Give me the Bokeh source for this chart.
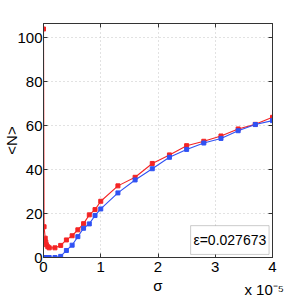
import math
from bokeh.plotting import figure
from bokeh.models import Range1d, LinearAxis, FixedTicker, Label, BoxAnnotation
from bokeh.embed import file_html
from bokeh.resources import INLINE

# sigma in units of 1e-5
sigma = [0, 0.01, 0.03, 0.04, 0.05, 0.075, 0.1, 0.2, 0.3, 0.4, 0.5, 0.6, 0.7, 0.8, 0.9, 1.0,
         1.3, 1.6, 1.9, 2.2, 2.5, 2.8, 3.1, 3.4, 3.7, 4.0]
n_red = [104, 14, 8.8, 7, 5.8, 4.9, 4.4, 4.4, 5.5, 8, 9.9, 12.6, 15.4, 19.4, 21.8, 25.6,
         32.6, 36.5, 42.8, 46.7, 50.9, 52.9, 55.3, 58.5, 60.6, 63.8]
n_blue = [0, 0, 0, 0, 0, 0, 0, 0, 0.5, 3.2, 5.6, 9.5, 13.3, 15.3, 19.1, 22.1,
          29.4, 35.3, 40.4, 45.6, 49.2, 52.1, 54.2, 57.7, 60.5, 62.3]
x_ticks = [0, 1, 2, 3, 4]
y_ticks = [0, 20, 40, 60, 80, 100]
eps_text = "ε=0.027673"
scale_text = "x 10⁻⁵" + "\u00a0" * 4

FONT = "Liberation Sans"

p = figure(width=300, height=300, output_backend="svg", toolbar_location=None,
           x_range=Range1d(0, 4), y_range=Range1d(0, 106.5),
           min_border_left=43, min_border_right=28, min_border_top=23, min_border_bottom=43)
p.background_fill_color = "white"
p.border_fill_color = "white"
p.outline_line_color = "#333333"

for ax in (p.xaxis[0], p.yaxis[0]):
    ax.major_tick_in = 4
    ax.major_tick_out = 0
    ax.minor_tick_line_color = None
    ax.axis_line_color = "#333333"
    ax.major_tick_line_color = "#333333"
    ax.major_label_text_font = FONT
    ax.major_label_text_font_size = "15px"
    ax.major_label_text_color = "black"
    ax.axis_label_text_font = FONT
    ax.axis_label_text_font_size = "15px"
    ax.axis_label_text_font_style = "normal"
    ax.axis_label_text_color = "black"
p.xaxis.ticker = FixedTicker(ticks=x_ticks)
p.yaxis.ticker = FixedTicker(ticks=y_ticks)
p.xaxis.major_label_standoff = 4
p.yaxis.major_label_standoff = 1
p.yaxis.axis_label = "<N>"
p.yaxis.axis_label_standoff = -6
p.xaxis.axis_label = "σ"
p.xaxis.axis_label_standoff = 2

for loc, ticks in (("above", x_ticks), ("right", y_ticks)):
    ax = LinearAxis(ticker=FixedTicker(ticks=ticks))
    ax.major_tick_in = 4
    ax.major_tick_out = 0
    ax.minor_tick_line_color = None
    ax.axis_line_color = "#333333"
    ax.major_tick_line_color = "#333333"
    ax.major_label_overrides = {t: "" for t in ticks}
    ax.major_label_standoff = 0
    p.add_layout(ax, loc)

# second bottom axis carrying only the scale factor text
sax = LinearAxis(ticker=FixedTicker(ticks=x_ticks))
sax.major_label_overrides = {t: "" for t in x_ticks}
sax.major_label_standoff = 0
sax.major_tick_in = 0
sax.major_tick_out = 0
sax.minor_tick_line_color = None
sax.axis_line_color = None
sax.major_tick_line_color = None
sax.axis_label = scale_text
sax.axis_label_align = "end"
sax.axis_label_standoff = -16
sax.axis_label_text_font = FONT
sax.axis_label_text_font_size = "15px"
sax.axis_label_text_font_style = "normal"
sax.axis_label_text_color = "black"
p.add_layout(sax, "below")

p.grid.grid_line_color = "#c4c4c4"
p.grid.grid_line_dash = "1 3"
p.xgrid.ticker = FixedTicker(ticks=x_ticks)
p.ygrid.ticker = FixedTicker(ticks=y_ticks)

RED = "#f42424"
BLUE = "#3052f4"
p.line(sigma, n_red, line_color=RED, line_width=1.1)
p.scatter(sigma, n_red, marker="square", size=4, fill_color=RED, line_color=RED)
p.line(sigma, n_blue, line_color=BLUE, line_width=1.1)
p.scatter(sigma, n_blue, marker="square", size=4, fill_color=BLUE, line_color=BLUE)

box = BoxAnnotation(left=2.57, right=3.94, bottom=1.4, top=14.5,
                    fill_color="white", fill_alpha=1.0, line_color="#555555", line_width=1)
p.add_layout(box)
p.add_layout(Label(x=3.255, y=7.9, text=eps_text, text_align="center", text_baseline="middle",
                   text_font=FONT, text_font_size="14px", text_color="black"))

open("out.html", "w").write(file_html(p, INLINE))
